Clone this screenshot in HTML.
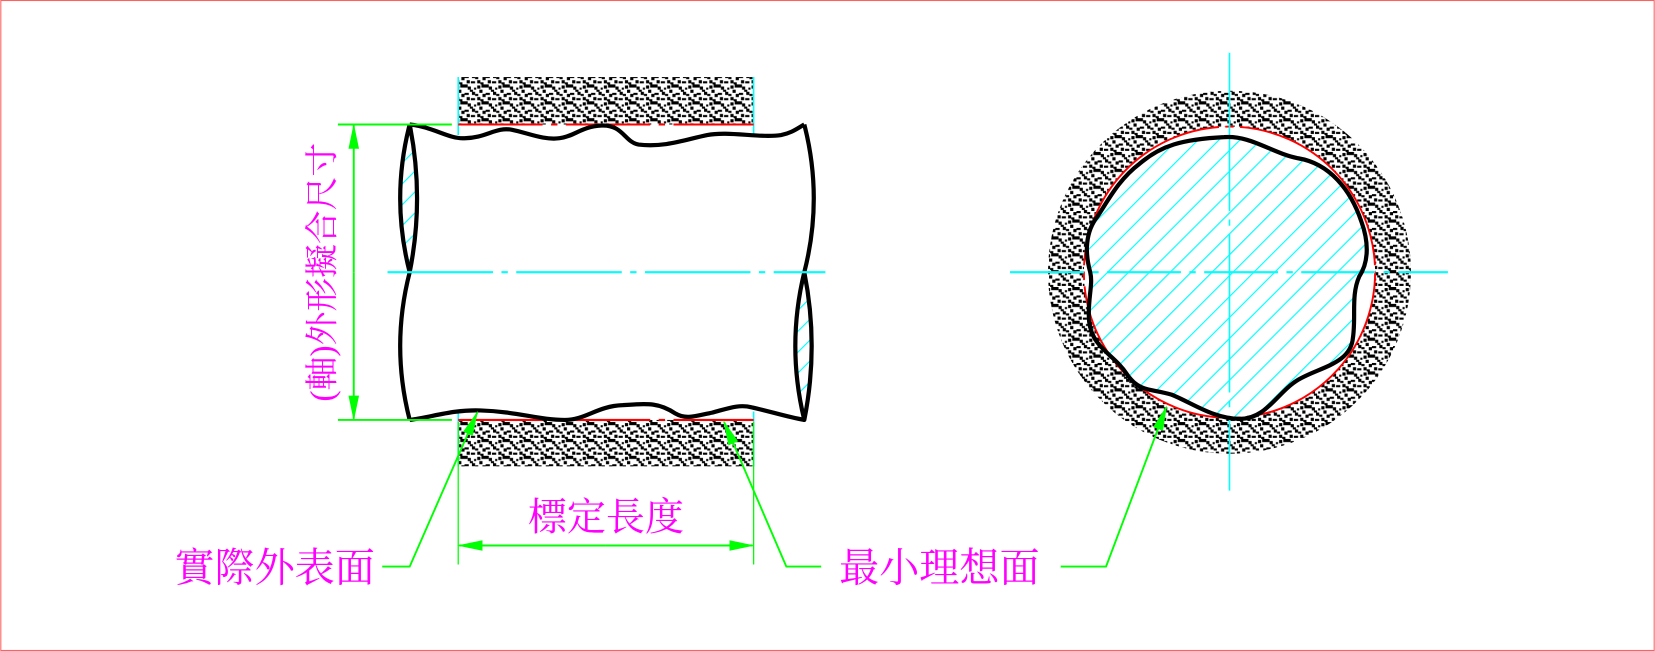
<!DOCTYPE html>
<html><head><meta charset="utf-8"><style>
html,body{margin:0;padding:0;background:#fff;}
svg{display:block;}
text{font-family:"Liberation Serif","Noto Serif CJK SC","Noto Sans CJK TC",serif;fill:#ff00ff;}
</style></head><body>
<svg width="1655" height="651" viewBox="0 0 1568 617" xmlns="http://www.w3.org/2000/svg">
<defs>
<pattern id="st" width="20" height="16" patternUnits="userSpaceOnUse">
<rect x="0" y="0" width="3" height="3"/><rect x="3" y="2" width="3" height="3"/><rect x="5" y="5" width="3" height="2"/><rect x="7" y="7" width="3" height="3"/><rect x="10" y="9" width="3" height="2"/>
<rect x="12" y="1" width="3" height="3"/><rect x="16" y="0" width="4" height="3"/><rect x="14" y="5" width="3" height="3"/><rect x="0" y="8" width="4" height="2"/>
<rect x="12" y="12" width="3" height="3"/><rect x="15" y="14" width="3" height="2"/><rect x="17" y="9" width="3" height="3"/><rect x="2" y="12" width="3" height="3"/><rect x="6" y="13" width="4" height="2"/><rect x="9" y="3" width="2" height="2"/>
</pattern>
<pattern id="hc" width="14" height="14" patternUnits="userSpaceOnUse" patternTransform="rotate(45)">
<line x1="0" y1="0" x2="0" y2="14" stroke="#00ffff" stroke-width="2.2"/>
</pattern>
<marker id="ar" markerWidth="24" markerHeight="10" refX="22" refY="5" orient="auto" markerUnits="userSpaceOnUse">
<path d="M0,0 L24,5 L0,10 Z" fill="#00ff00"/></marker>
</defs>
<rect x="0.5" y="0.5" width="1567" height="616" fill="none" stroke="#ff6060" stroke-width="1"/>

<rect x="434" y="73" width="280" height="45" fill="url(#st)"/>
<rect x="434" y="398" width="280" height="44" fill="url(#st)"/>
<circle cx="1165" cy="258" r="172" fill="url(#st)"/>
<circle cx="1165" cy="258" r="138" fill="#fff"/>

<g stroke="#00ffff" stroke-width="1.5">
<line x1="434" y1="73" x2="434" y2="128"/><line x1="714" y1="73" x2="714" y2="128"/>
<line x1="434" y1="390" x2="434" y2="442"/><line x1="714" y1="390" x2="714" y2="442"/>
</g>
<g stroke="#ff0000" stroke-width="2" stroke-dasharray="80,8,6,8">
<line x1="434" y1="118" x2="714" y2="118"/><line x1="434" y1="398" x2="714" y2="398"/>
</g>

<path d="M388,118 Q370,188 388,258 Q402,188 388,118Z" fill="url(#hc)"/>
<path d="M762,258 Q745,328 762,398 Q776,328 762,258Z" fill="url(#hc)"/>

<g fill="none" stroke="#000" stroke-width="4" stroke-linejoin="round">
<path d="M388,118 C410,120 425,132 440,131 C460,131 470,120 485,123 C500,126 515,133 530,131 C545,129 550,120 570,119 C590,118 592,135 605,137 C630,140 650,132 670,128 C690,124 720,131 740,128 C750,126 755,122 762,118"/>
<path d="M388,398 C410,395 430,388 455,389 C490,390 510,398 535,398 C555,398 565,385 590,384 C615,382 625,382 640,392 C650,398 660,394 675,391 C690,387 700,383 712,386 C730,390 745,395 762,398"/>
<path d="M388,118 Q370,188 388,258 Q402,188 388,118"/>
<path d="M388,258 Q370,328 388,398"/>
<path d="M762,118 Q780,188 762,258 Q745,328 762,398 Q776,328 762,258"/>
</g>
<line x1="367" y1="258" x2="782" y2="258" stroke="#00ffff" stroke-width="2" stroke-dasharray="100,8,6,8"/>

<g stroke="#00ff00" stroke-width="1.8" fill="none">
<line x1="320" y1="118" x2="428" y2="118"/><line x1="320" y1="398" x2="428" y2="398"/>
<line x1="335" y1="258" x2="335" y2="119" marker-end="url(#ar)"/>
<line x1="335" y1="258" x2="335" y2="397" marker-end="url(#ar)"/>
<line x1="434" y1="400" x2="434" y2="535" stroke-width="1.2"/><line x1="714" y1="400" x2="714" y2="535" stroke-width="1.2"/>
<line x1="574" y1="517" x2="435" y2="517" marker-end="url(#ar)"/>
<line x1="574" y1="517" x2="713" y2="517" marker-end="url(#ar)"/>
<polyline points="362,537 388,537 452,391" marker-end="url(#ar)"/>
<polyline points="778,537 745,537 686,400" marker-end="url(#ar)"/>
<polyline points="1005,537 1048,537 1105,386" marker-end="url(#ar)"/>
</g>

<path d="M1160,130 C1185,128 1205,145 1230,150 C1260,155 1280,180 1290,210 C1298,232 1296,250 1288,262 C1280,280 1285,300 1282,320 C1280,345 1250,348 1230,360 C1210,372 1200,397 1175,397 C1150,397 1130,382 1110,374 C1090,368 1080,372 1068,355 C1055,335 1035,330 1032,305 C1030,285 1036,270 1033,258 C1028,240 1028,220 1040,205 C1050,190 1060,170 1080,155 C1100,138 1120,132 1160,130Z" fill="url(#hc)" stroke="none"/>
<circle cx="1165" cy="258" r="138" fill="none" stroke="#ff0000" stroke-width="1.8" stroke-dasharray="200,6,8,6"/>
<line x1="957" y1="258" x2="1372" y2="258" stroke="#00ffff" stroke-width="2" stroke-dasharray="70,8,6,8"/>
<line x1="1165" y1="50" x2="1165" y2="465" stroke="#00ffff" stroke-width="1.5" stroke-dasharray="150,8,6,8"/>
<path d="M1160,130 C1185,128 1205,145 1230,150 C1260,155 1280,180 1290,210 C1298,232 1296,250 1288,262 C1280,280 1285,300 1282,320 C1280,345 1250,348 1230,360 C1210,372 1200,397 1175,397 C1150,397 1130,382 1110,374 C1090,368 1080,372 1068,355 C1055,335 1035,330 1032,305 C1030,285 1036,270 1033,258 C1028,240 1028,220 1040,205 C1050,190 1060,170 1080,155 C1100,138 1120,132 1160,130Z" fill="none" stroke="#000" stroke-width="4"/>

<text x="306" y="258" font-size="32" text-anchor="middle" dominant-baseline="central" transform="rotate(-90 306 258)">(軸)外形擬合尺寸</text>
<text x="574" y="503" font-size="37" text-anchor="middle">標定長度</text>
<text x="260" y="551" font-size="38" text-anchor="middle">實際外表面</text>
<text x="890" y="551" font-size="38" text-anchor="middle">最小理想面</text>
</svg>
</body></html>
